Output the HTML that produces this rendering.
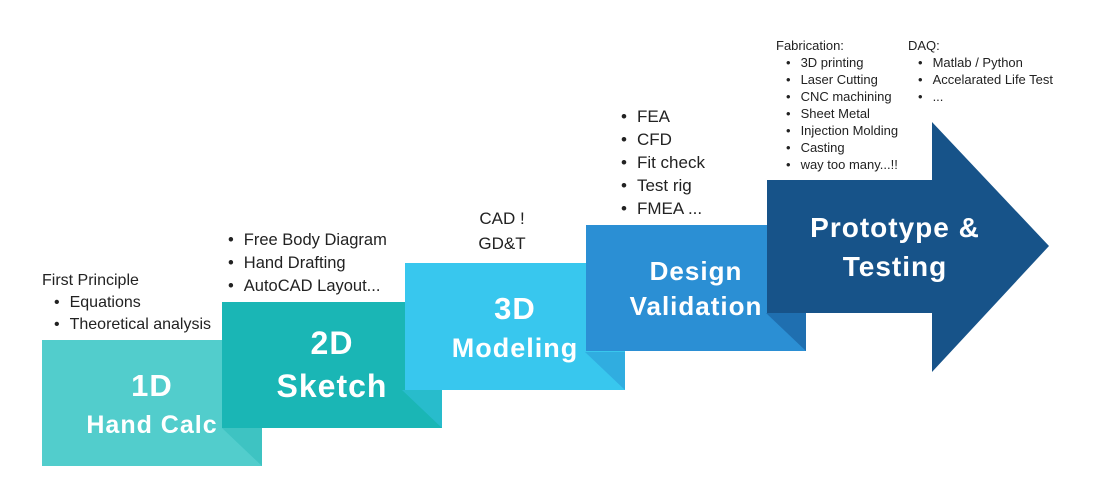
<!DOCTYPE html>
<html><head><style>
body{margin:0;width:1094px;height:485px;background:#fff;position:relative;overflow:hidden;font-family:"Liberation Sans",sans-serif;color:#222}
.t{position:absolute;white-space:nowrap}
.b{position:absolute;color:#fff;font-weight:bold;text-align:center;white-space:nowrap;letter-spacing:1px}
ul{margin:0;padding:0;list-style:none}
li:before{content:"•";margin-right:10px}
</style></head><body>
<svg width="1094" height="485" style="position:absolute;left:0;top:0">
<rect x="42" y="340" width="220" height="126" fill="#52cdcc"/>
<polygon points="222,428 262,428 262,466" fill="#3ec3c2"/>
<rect x="222" y="302" width="220" height="126" fill="#1ab6b5"/>
<polygon points="402,390 442,390 442,428" fill="#28bccc"/>
<rect x="405" y="263" width="220" height="127" fill="#38c7ee"/>
<polygon points="585,352 625,352 625,390" fill="#30ade0"/>
<rect x="586" y="225" width="220" height="126" fill="#2b8fd4"/>
<polygon points="766,313 806,313 806,351" fill="#1f6fb0"/>
<polygon points="767,180 932,180 932,122 1049,246 932,372 932,313 767,313" fill="#175389"/>
</svg>
<div class="b" style="left:42px;width:220px;top:368px;font-size:31px">1D</div>
<div class="b" style="left:42px;width:220px;top:411px;font-size:25px">Hand Calc</div>
<div class="b" style="left:222px;width:220px;top:325px;font-size:32px">2D</div>
<div class="b" style="left:222px;width:220px;top:368px;font-size:32px">Sketch</div>
<div class="b" style="left:405px;width:220px;top:291px;font-size:31px">3D</div>
<div class="b" style="left:405px;width:220px;top:333px;font-size:27px">Modeling</div>
<div class="b" style="left:586px;width:220px;top:256px;font-size:26px">Design</div>
<div class="b" style="left:586px;width:220px;top:291px;font-size:26px">Validation</div>
<div class="b" style="left:790px;width:210px;top:212px;font-size:28px">Prototype &amp;</div>
<div class="b" style="left:790px;width:210px;top:251px;font-size:28px">Testing</div>

<div class="t" style="left:42px;top:270px;font-size:16px;line-height:22px">First Principle
<ul style="margin-left:12px"><li>Equations</li><li>Theoretical analysis</li></ul></div>
<ul class="t" style="left:228px;top:229px;font-size:16.5px;line-height:23px"><li>Free Body Diagram</li><li>Hand Drafting</li><li>AutoCAD Layout...</li></ul>
<div class="t" style="left:457px;top:206px;font-size:17px;line-height:25px;text-align:center;width:90px">CAD !<br>GD&amp;T</div>
<ul class="t" style="left:621px;top:105px;font-size:17px;line-height:23px"><li>FEA</li><li>CFD</li><li>Fit check</li><li>Test rig</li><li>FMEA ...</li></ul>
<div class="t" style="left:776px;top:37px;font-size:13px;line-height:17px">Fabrication:
<ul style="margin-left:10px"><li>3D printing</li><li>Laser Cutting</li><li>CNC machining</li><li>Sheet Metal</li><li>Injection Molding</li><li>Casting</li><li>way too many...!!</li></ul></div>
<div class="t" style="left:908px;top:37px;font-size:13px;line-height:17px">DAQ:
<ul style="margin-left:10px"><li>Matlab / Python</li><li>Accelarated Life Test</li><li>...</li></ul></div>
</body></html>
